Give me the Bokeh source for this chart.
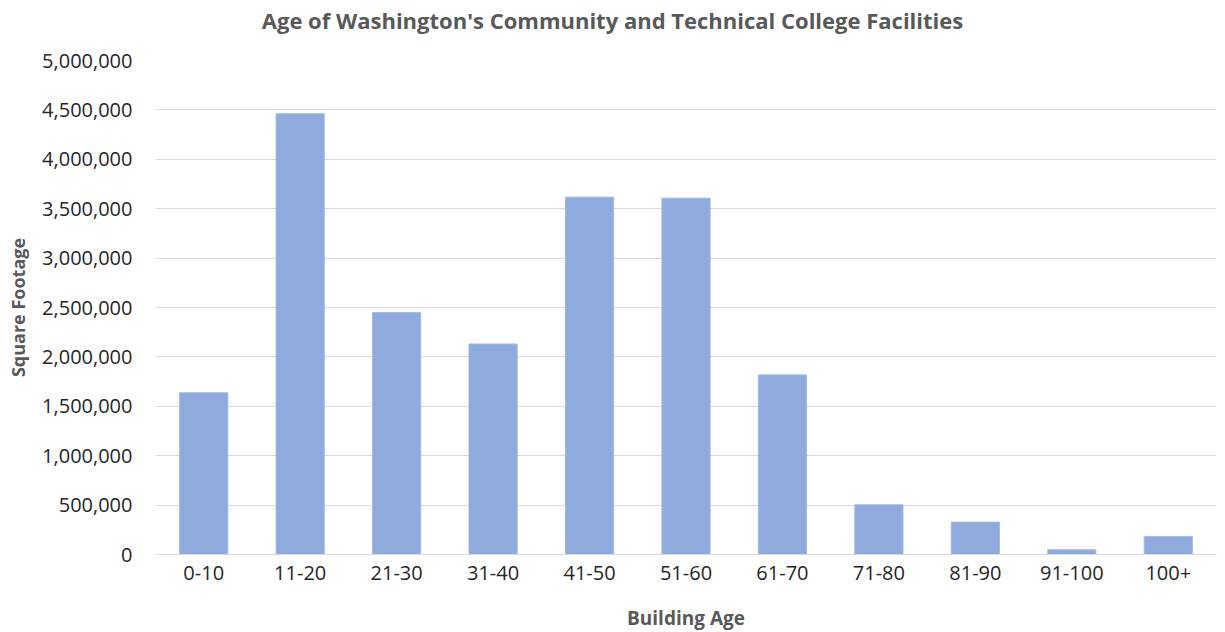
from bokeh.plotting import figure
from bokeh.models import (Range1d, SingleIntervalTicker, NumeralTickFormatter,
                          LinearAxis, FixedTicker)
from bokeh.embed import file_html
from bokeh.resources import INLINE

categories = ["0-10", "11-20", "21-30", "31-40", "41-50", "51-60",
              "61-70", "71-80", "81-90", "91-100", "100+"]
square_footage = [1637000, 4461000, 2449000, 2131000, 3617000, 3607000,
                  1818000, 503000, 328000, 48000, 183000]
title_text = "Age of Washington's Community and Technical College Facilities"

FONT = "Open Sans"

positions = list(range(len(categories)))

p = figure(frame_width=1061, frame_height=494,
           output_backend="svg", toolbar_location=None,
           min_border_left=155, min_border_right=1,
           min_border_top=60, min_border_bottom=70)
p.x_range = Range1d(-0.5, len(categories) - 0.5)
p.y_range = Range1d(0, 5000000)

p.vbar(x=positions, top=square_footage, width=0.5,
       fill_color="#8FAADC", line_color="#A3BAE3", line_width=1)

# title drawn as the single label of a bare axis above the plot,
# positioned over the whole chart (not just the plot area)
p.extra_x_ranges = {"title": Range1d(0, 1061)}
title_axis = LinearAxis(x_range_name="title", ticker=FixedTicker(ticks=[457]),
                        major_label_overrides={457: title_text})
title_axis.axis_line_color = None
title_axis.major_tick_line_color = None
title_axis.minor_tick_line_color = None
title_axis.major_label_standoff = 20
title_axis.major_label_text_font = FONT
title_axis.major_label_text_font_size = "22px"
title_axis.major_label_text_font_style = "bold"
title_axis.major_label_text_color = "#595959"
p.add_layout(title_axis, "above")

xa = p.below[0]
ya = p.left[0]
xa.ticker = FixedTicker(ticks=positions)
xa.major_label_overrides = {i: c for i, c in zip(positions, categories)}
ya.ticker = SingleIntervalTicker(interval=500000)
ya.formatter = NumeralTickFormatter(format="0,0")
ya.axis_label = "Square Footage"
xa.axis_label = "Building Age"

for ax in (xa, ya):
    ax.major_tick_line_color = None
    ax.minor_tick_line_color = None
    ax.major_label_text_font = FONT
    ax.major_label_text_font_size = "20px"
    ax.major_label_text_color = "#262626"
    ax.axis_label_text_font = FONT
    ax.axis_label_text_font_style = "bold"
    ax.axis_label_text_color = "#595959"

xa.axis_label_text_font_size = "19px"
ya.axis_label_text_font_size = "18px"
ya.axis_line_color = None
xa.axis_line_color = "#D9D9D9"
xa.axis_line_width = 1
xa.major_label_standoff = 5
ya.major_label_standoff = 17
xa.axis_label_standoff = 22
ya.axis_label_standoff = 9

p.xgrid.grid_line_color = None
p.ygrid.grid_line_color = "#D9D9D9"
p.ygrid.grid_line_width = 1
p.outline_line_color = None

open("out.html", "w").write(file_html(p, INLINE))
